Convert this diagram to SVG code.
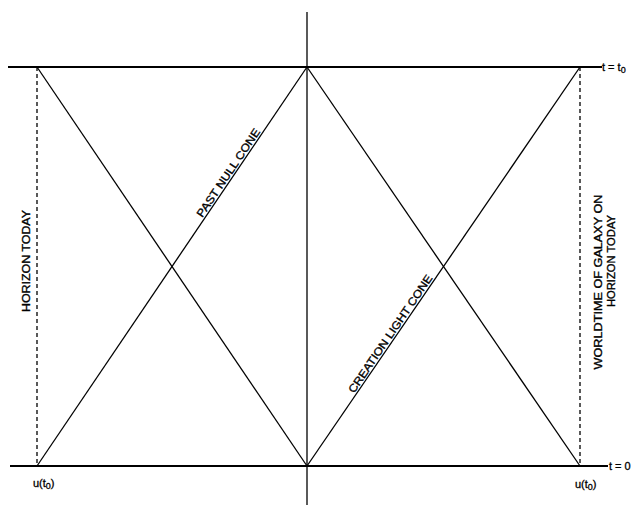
<svg xmlns="http://www.w3.org/2000/svg" width="635" height="507" viewBox="0 0 635 507">
<style>
.ln{stroke:#000;stroke-width:1.3;fill:none}
.ax{stroke:#000;stroke-width:1.8;fill:none}
.ds{stroke:#000;stroke-width:1.3;fill:none;stroke-dasharray:4 3}
.lb{font-family:"Liberation Sans",Arial,sans-serif;font-size:11px;fill:#000;stroke:#000;stroke-width:0.35}
.sm{font-family:"Liberation Sans",Arial,sans-serif;font-size:11px;fill:#000;stroke:#000;stroke-width:0.3}
</style>
<rect width="635" height="507" fill="#fff"/>
<g id="connectors">
<line class="ax" x1="8" y1="67" x2="602" y2="67"/>
<line class="ax" x1="10" y1="466" x2="608" y2="466"/>
<line class="ln" x1="307" y1="12" x2="307" y2="505"/>
<line class="ds" x1="37" y1="67" x2="37" y2="466"/>
<line class="ds" x1="580" y1="67" x2="580" y2="466"/>
<line class="ln" x1="37" y1="67" x2="307" y2="466"/>
<line class="ln" x1="307" y1="67" x2="37" y2="466"/>
<line class="ln" x1="307" y1="67" x2="580" y2="466"/>
<line class="ln" x1="307" y1="466" x2="580" y2="67"/>
</g>
<g id="past-null-cone">
<text class="lb" transform="translate(231.5,174.9) rotate(-55.9)" text-anchor="middle" textLength="104" lengthAdjust="spacingAndGlyphs">PAST NULL CONE</text>
</g>
<g id="creation-light-cone">
<text class="lb" transform="translate(393.4,335.9) rotate(-55.7)" text-anchor="middle" textLength="140" lengthAdjust="spacingAndGlyphs">CREATION LIGHT CONE</text>
</g>
<g id="horizon-today">
<text class="lb" transform="translate(30,261) rotate(-90)" text-anchor="middle" textLength="102" lengthAdjust="spacingAndGlyphs">HORIZON TODAY</text>
</g>
<g id="worldtime">
<text class="lb" transform="translate(602,282) rotate(-90)" text-anchor="middle" textLength="175" lengthAdjust="spacingAndGlyphs">WORLDTIME OF GALAXY ON</text>
<text class="lb" transform="translate(615,261) rotate(-90)" text-anchor="middle" textLength="92" lengthAdjust="spacingAndGlyphs">HORIZON TODAY</text>
</g>
<g id="t-labels">
<text class="sm" x="602" y="71">t = t<tspan font-size="9" dy="2">0</tspan></text>
<text class="sm" x="609" y="470">t = 0</text>
</g>
<g id="u-labels">
<text class="sm" x="33" y="487">u(t<tspan font-size="9" dy="2">0</tspan><tspan dy="-2">)</tspan></text>
<text class="sm" x="575" y="488">u(t<tspan font-size="9" dy="2">0</tspan><tspan dy="-2">)</tspan></text>
</g>
</svg>
